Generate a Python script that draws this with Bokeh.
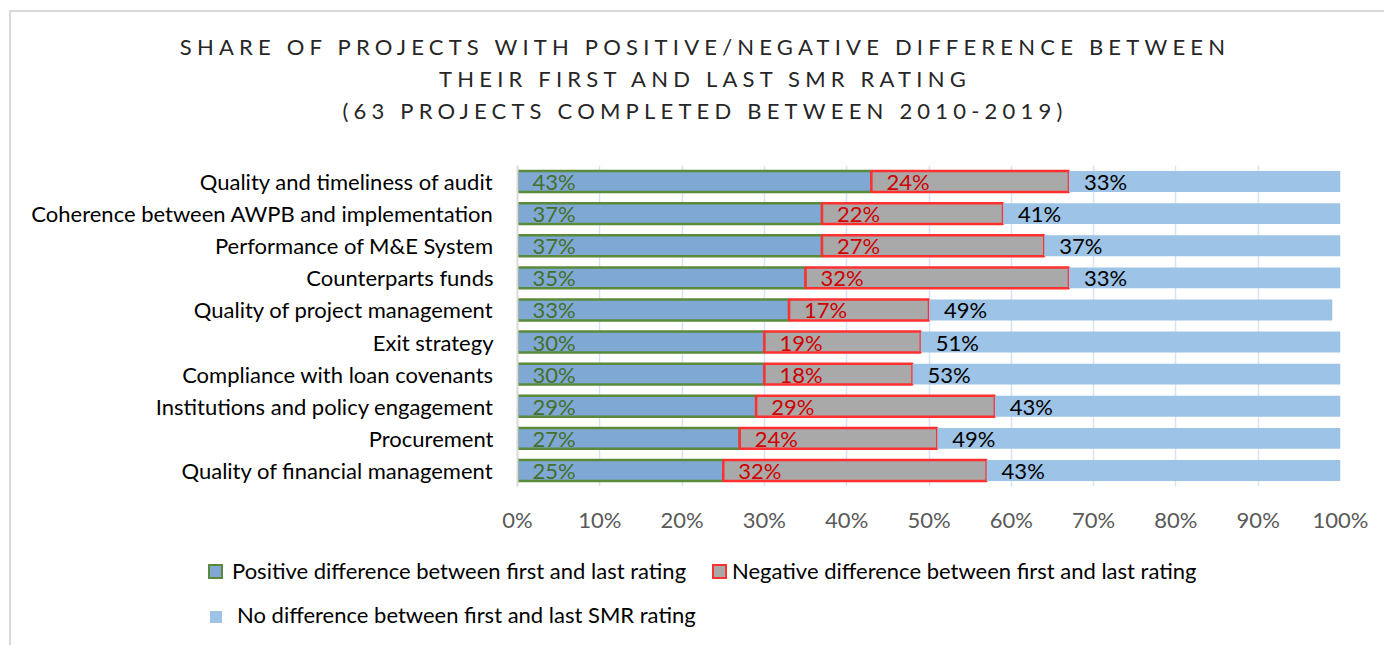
from bokeh.plotting import figure
from bokeh.models import (ColumnDataSource, FactorRange, Range1d, FixedTicker,
                          PrintfTickFormatter, Div)
from bokeh.layouts import column
from bokeh.core.properties import value
from bokeh.embed import file_html
from bokeh.resources import INLINE

categories = [
    "Quality and timeliness of audit",
    "Coherence between AWPB and implementation",
    "Performance of M&E System",
    "Counterparts funds",
    "Quality of project management",
    "Exit strategy",
    "Compliance with loan covenants",
    "Institutions and policy engagement",
    "Procurement",
    "Quality of financial management",
]
positive = [43, 37, 37, 35, 33, 30, 30, 29, 27, 25]
negative = [24, 22, 27, 32, 17, 19, 18, 29, 24, 32]
no_diff = [33, 41, 37, 33, 49, 51, 53, 43, 49, 43]
ticks = [0, 10, 20, 30, 40, 50, 60, 70, 80, 90, 100]

title_lines = [
    "SHARE OF PROJECTS WITH POSITIVE/NEGATIVE DIFFERENCE BETWEEN",
    "THEIR FIRST AND LAST SMR RATING",
    "(63 PROJECTS COMPLETED BETWEEN 2010-2019)",
]
series_names = [
    "Positive difference between first and last rating",
    "Negative difference between first and last rating",
    "No difference between first and last SMR rating",
]

FONT = "Lato"
POS_FILL, POS_LINE = "#7fa8d4", "#5a8a3a"
NEG_FILL, NEG_LINE = "#a9a9a9", "#ff3030"
ND_FILL = "#9dc3e6"

neg_end = [a + b for a, b in zip(positive, negative)]
nd_end = [a + b for a, b in zip(neg_end, no_diff)]

src = ColumnDataSource(dict(
    cat=categories,
    zero=[0] * len(categories),
    pos=positive, neg_end=neg_end, nd_end=nd_end,
    pos_lbl=[f"{v}%" for v in positive],
    neg_lbl=[f"{v}%" for v in negative],
    nd_lbl=[f"{v}%" for v in no_diff],
))

title_html = (
    '<div style="width:1370px;text-align:center;font-family:Lato;font-size:22px;'
    'letter-spacing:5.2px;line-height:32px;color:#262626;padding-top:14px;padding-left:8px;">'
    + "<br>".join(t.replace("&", "&amp;") for t in title_lines) + "</div>"
)
title_div = Div(text=title_html, width=1370, height=138)

p = figure(
    width=1370, height=381,
    y_range=FactorRange(factors=list(reversed(categories)), range_padding=0),
    x_range=Range1d(0, 100),
    output_backend="svg", toolbar_location=None,
    min_border_left=506, min_border_right=41,
    min_border_top=5, min_border_bottom=55,
)
p.outline_line_color = None
p.background_fill_color = None
p.border_fill_color = None

H = 0.65
p.hbar(y="cat", left="zero", right="pos", height=H, source=src,
       fill_color=POS_FILL, line_color=POS_LINE, line_width=2.5)
p.hbar(y="cat", left="pos", right="neg_end", height=H, source=src,
       fill_color=NEG_FILL, line_color=NEG_LINE, line_width=2.5)
p.hbar(y="cat", left="neg_end", right="nd_end", height=H, source=src,
       fill_color=ND_FILL, line_color=None)

for xcol, tcol, color in [("zero", "pos_lbl", "#44702a"),
                          ("pos", "neg_lbl", "#d00000"),
                          ("neg_end", "nd_lbl", "#000000")]:
    p.text(x=xcol, y="cat", text=tcol, source=src, x_offset=15,
           text_align="left", text_baseline="middle", text_color=color,
           text_font=value(FONT), text_font_size="22px")

p.xaxis.ticker = FixedTicker(ticks=ticks)
p.xaxis.formatter = PrintfTickFormatter(format="%d%%")
p.xaxis.axis_line_color = None
p.xaxis.major_tick_line_color = None
p.xaxis.minor_tick_line_color = None
p.xaxis.major_tick_in = 0
p.xaxis.major_tick_out = 0
p.xaxis.major_label_standoff = 19
p.xaxis.major_label_text_font = FONT
p.xaxis.major_label_text_font_size = "22px"
p.xaxis.major_label_text_color = "#595959"

p.yaxis.axis_line_color = "#d9d9d9"
p.yaxis.axis_line_width = 2
p.yaxis.major_tick_line_color = None
p.yaxis.minor_tick_line_color = None
p.yaxis.major_tick_in = 0
p.yaxis.major_tick_out = 0
p.yaxis.major_label_standoff = 24
p.yaxis.major_label_text_font = FONT
p.yaxis.major_label_text_font_size = "22px"
p.yaxis.major_label_text_color = "#000000"

p.ygrid.grid_line_color = None
p.xgrid.grid_line_color = "#d6e3f2"
p.xgrid.grid_line_width = 1.5


def swatch(left, top, size, fill, line):
    border = f"border:2px solid {line};" if line else ""
    return (f'<span style="position:absolute;box-sizing:border-box;left:{left}px;top:{top}px;'
            f'width:{size}px;height:{size}px;background:{fill};{border}"></span>')


def label(left, center_y, text):
    return (f'<span style="position:absolute;left:{left}px;top:{center_y - 14}px;'
            f'line-height:28px;white-space:nowrap;">{text}</span>')


legend_html = (
    '<div style="position:relative;width:1370px;height:100px;font-family:Lato;'
    'font-size:22px;color:#000000;">'
    + swatch(192, 18, 15, POS_FILL, POS_LINE) + label(216, 25, series_names[0])
    + swatch(696, 18, 15, NEG_FILL, NEG_LINE) + label(716, 25, series_names[1])
    + swatch(194, 65, 12, ND_FILL, None) + label(221, 69, series_names[2])
    + "</div>"
)
legend_div = Div(text=legend_html, width=1370, height=100)

layout = column(title_div, p, legend_div, margin=(10, 0, 0, 9), spacing=0,
                styles={"border-left": "2px solid #d9d9d9", "border-top": "2px solid #d9d9d9"})

open("out.html", "w").write(file_html(layout, INLINE))
